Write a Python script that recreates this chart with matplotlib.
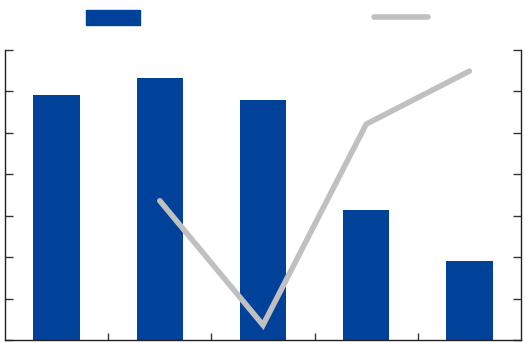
import matplotlib
matplotlib.use("Agg")
import matplotlib.pyplot as plt
from matplotlib.patches import Patch
from matplotlib.lines import Line2D

categories = ["A", "B", "C", "D", "E"]
bar_values = [5.91, 6.32, 5.79, 3.14, 1.91]
line_cats = ["B", "C", "D", "E"]
line_values = [3.36, 0.36, 5.21, 6.49]
yticks = [0, 1, 2, 3, 4, 5, 6, 7]

BLUE = "#00419a"
GRAY = "#c0c0c0"

fig = plt.figure(figsize=(5.25, 3.43), dpi=100)
ax = fig.add_axes([5/525, 3/343, 516/525, 290/343])

x = list(range(len(categories)))
ax.bar(x, bar_values, width=0.45, color=BLUE, zorder=2)
lx = [categories.index(c) for c in line_cats]
ax.plot(lx, line_values, color=GRAY, lw=4, solid_capstyle="round",
        solid_joinstyle="miter", zorder=3)

ax.set_xlim(-0.5, len(categories) - 0.5)
ax.set_ylim(0, 7)
ax.set_yticks(yticks)
ax.set_xticks([i + 0.5 for i in range(len(categories) - 1)])
ax.tick_params(axis="y", direction="in", length=6, width=1, color="#333333",
               left=True, right=True, labelleft=False, labelright=False)
ax.tick_params(axis="x", direction="in", length=5, width=1, color="#333333",
               labelbottom=False)
for s in ax.spines.values():
    s.set_color("#222222")
    s.set_linewidth(1)
ax.spines["top"].set_visible(False)

handles1 = [Patch(facecolor=BLUE, edgecolor=BLUE)]
handles2 = [Line2D([0], [0], color=GRAY, lw=4, solid_capstyle="round")]
leg1 = fig.legend(handles1, [""], loc="center", bbox_to_anchor=(113/525, 1 - 18/343),
                  frameon=False, handlelength=3.9, handleheight=1.25,
                  handletextpad=0, borderpad=0, borderaxespad=0)
leg2 = fig.legend(handles2, [""], loc="center", bbox_to_anchor=(401/525, 1 - 18/343),
                  frameon=False, handlelength=3.9, handletextpad=0,
                  borderpad=0, borderaxespad=0)

fig.savefig("out.png", dpi=100)
